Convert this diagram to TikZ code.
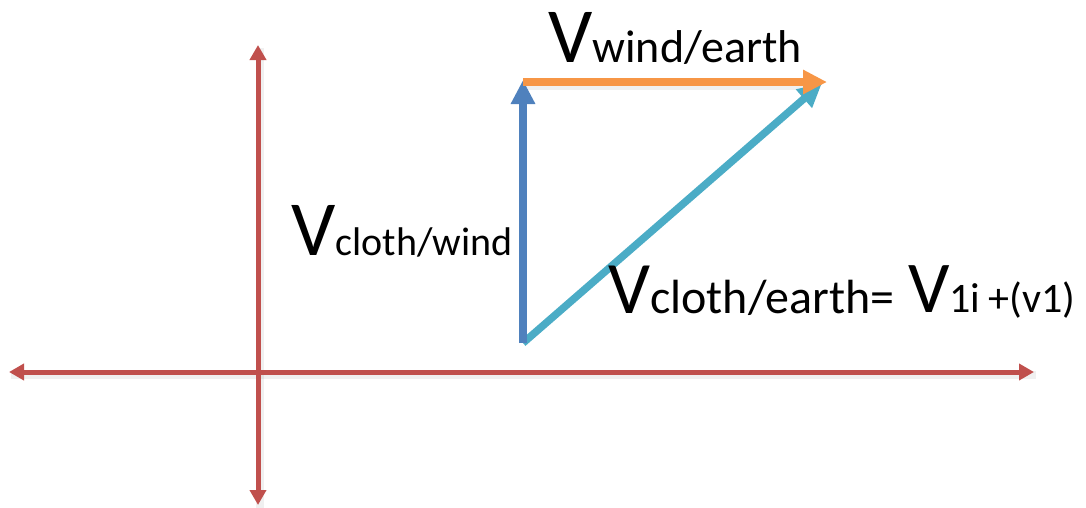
\documentclass[tikz,border=0pt]{standalone}
\usepackage{fontspec}
\setmainfont{Carlito}
\usetikzlibrary{arrows.meta}
\definecolor{axisred}{HTML}{C0504D}
\definecolor{vblue}{HTML}{4F81BD}
\definecolor{vorange}{HTML}{F79646}
\definecolor{vcyan}{HTML}{4BACC6}
\newcommand{\bigV}[1]{{\fontsize{#1}{#1}\selectfont V}}
\newcommand{\subtxt}[2]{{\fontsize{#1}{#1}\selectfont #2}}
\tikzset{
  axisline/.style={draw=axisred, line width=5pt, {Triangle[width=16pt,length=15pt]}-{Triangle[width=16pt,length=15pt]}},
  vecline/.style={line width=7.5pt, -{Triangle[width=23pt,length=24pt]}},
  shadowline/.style={draw=black, opacity=0.06, line width=8pt},
  lbl/.style={anchor=base west, inner sep=0pt, text=black}
}
\begin{document}
\begin{tikzpicture}[x=1pt,y=-1pt]
\useasboundingbox (0,0) rectangle (1086,507);
\coordinate (L) at (9,372);
\coordinate (R) at (1034,372);
\coordinate (T) at (258,45);
\coordinate (B) at (258,505);
\coordinate (O) at (523,343);
\coordinate (A) at (523,80);
\coordinate (Astart) at (523,82);
\coordinate (C) at (827,82);
\coordinate (D) at (822,83);
% shadows
\draw[shadowline] ([shift={(2,3)}]L) -- ([shift={(2,3)}]R);
\draw[shadowline] ([shift={(2,3)}]T) -- ([shift={(2,3)}]B);
\draw[shadowline, line width=10pt] ([shift={(2,3)}]Astart) -- ([shift={(-20,3)}]C);
% axes
\draw[axisline] (L) -- (R);
\draw[axisline] (B) -- (T);
% vectors
\draw[vecline, draw=vcyan, fill=vcyan] (O) -- (D);
\draw[vecline, draw=vblue, fill=vblue] (O) -- (A);
\draw[vecline, draw=vorange, fill=vorange] (Astart) -- (C);
% labels
\node[lbl] (lwind) at (548,62) {\bigV{78}\subtxt{46}{wind/earth}};
\node[lbl] (lcw) at (291,255) {\bigV{78}\subtxt{40}{cloth/wind}};
\node[lbl] (lce) at (608,313) {\bigV{74}\subtxt{48}{cloth/earth=}};
\node[lbl] (lv1) at (908,312) {\bigV{73}\subtxt{42}{1i\hspace{8pt}+(v1)}};
\end{tikzpicture}
\end{document}
